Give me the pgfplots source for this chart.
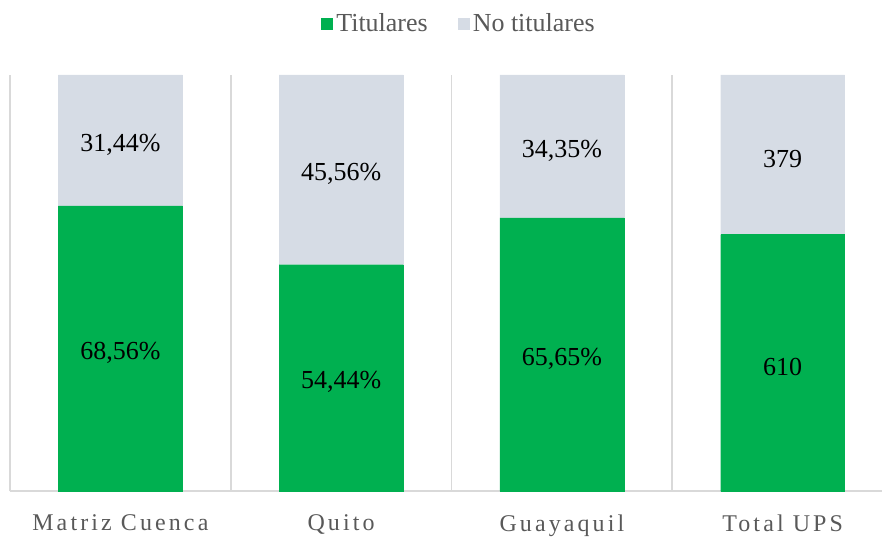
\documentclass[border=0pt]{standalone}
\usepackage{fontspec}
\setmainfont{Liberation Serif}
\newfontfamily\spacedfont[LetterSpace=13]{Liberation Serif}
\usepackage{pgfplots}
\pgfplotsset{compat=1.18}
\definecolor{tgreen}{HTML}{00B050}
\definecolor{tgrey}{HTML}{D6DCE5}
\definecolor{gridc}{HTML}{D9D9D9}
\definecolor{txt}{HTML}{595959}
\pgfplotsset{frame/.style={width=436.5pt, height=208.5pt, scale only axis,
  xmin=-0.5, xmax=3.45, ymin=0, ymax=100, clip=false}}
\begin{document}
\begin{tikzpicture}
\begin{axis}[frame, name=ax,
  ybar stacked, bar width=62pt,
  axis y line=none, axis x line*=bottom,
  x axis line style={gridc, line width=1pt},
  xtick={0,1,2,3}, major tick length=0pt,
  xticklabels={Matriz Cuenca,Quito,Guayaquil,Total UPS},
  xticklabel style={font=\spacedfont\fontsize{12}{14}\selectfont, text=txt, yshift=-8pt},
  extra x ticks={-0.5,0.5,1.5,2.5}, extra x tick labels={},
  extra x tick style={grid=major, major grid style={gridc, line width=0.8pt}},
  legend style={at={(0.516,1)}, anchor=south, yshift=16pt, draw=none, legend columns=2,
    font=\fontsize{13}{15}\selectfont, text=txt,
    /tikz/every even column/.append style={column sep=13pt}},
  area legend,
  legend image post style={xscale=0.32, yscale=0.97},
]
\addplot[draw=tgreen, line width=0.1pt, fill=tgreen] coordinates {(0,68.56) (1,54.44) (2,65.65) (3,61.68)};
\addlegendentry{Titulares}
\addplot[draw=tgrey, line width=0.1pt, fill=tgrey] coordinates {(0,31.44) (1,45.56) (2,34.35) (3,38.32)};
\addlegendentry{No titulares}
\end{axis}
% value labels at the middle of each segment
\begin{axis}[frame, hide axis]
\addplot[draw=none, nodes near coords, point meta=explicit symbolic,
  every node near coord/.style={anchor=center, yshift=-2pt, font=\fontsize{13}{15}\selectfont, text=black}]
  coordinates {(0,34.28) [68,56\%] (1,27.22) [54,44\%] (2,32.83) [65,65\%] (3,30.84) [610]
               (0,84.28) [31,44\%] (1,77.22) [45,56\%] (2,82.83) [34,35\%] (3,80.84) [379]};
\end{axis}
\path (ax.south west) ++(-5pt,-20.5pt);
\path (ax.north east) ++(0,37.5pt);
\end{tikzpicture}
\end{document}
